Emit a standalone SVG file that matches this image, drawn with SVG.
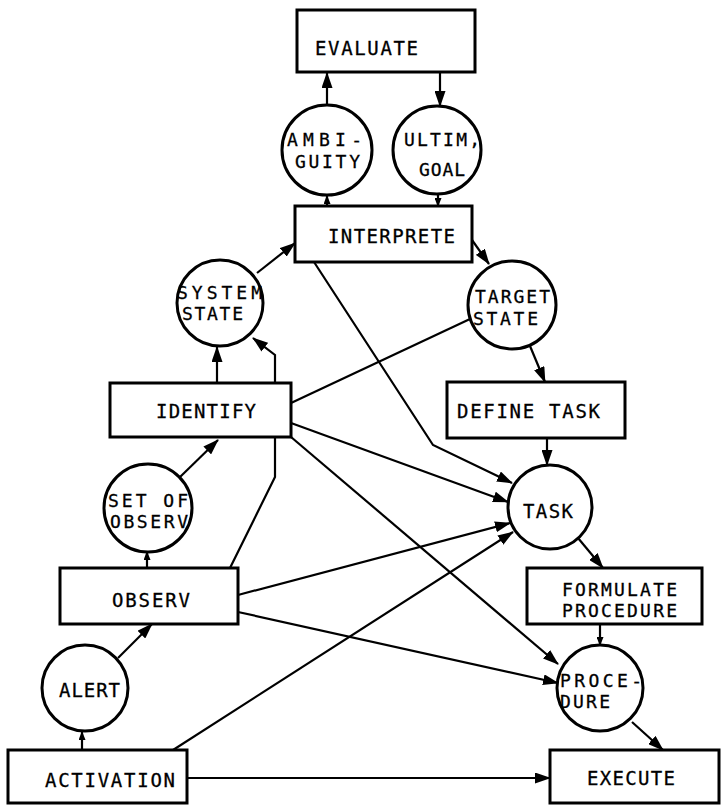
<svg xmlns="http://www.w3.org/2000/svg" width="721" height="805" viewBox="0 0 721 805">
<style>
.box{fill:#fff;stroke:#000;stroke-width:3}
.circ{fill:#fff;stroke:#000;stroke-width:3}
.t{font-family:"DejaVu Sans Mono","Liberation Mono",monospace;font-size:19px;fill:#000;stroke:#000;stroke-width:0.3}
.t2{font-family:"DejaVu Sans Mono","Liberation Mono",monospace;font-size:18px;fill:#000;stroke:#000;stroke-width:0.3}
.c{fill:none;stroke:#000;stroke-width:2.2}
</style>
<defs>
<marker id="ah" markerUnits="userSpaceOnUse" markerWidth="16" markerHeight="11" refX="15" refY="5.5" orient="auto">
<path d="M0,0 L16,5.5 L0,11 z" fill="#000"/>
</marker>
<marker id="sh" markerUnits="userSpaceOnUse" markerWidth="9" markerHeight="7" refX="8" refY="3.5" orient="auto">
<path d="M0,0 L9,3.5 L0,7 z" fill="#000"/>
</marker>
</defs>
<rect width="721" height="805" fill="#fff"/>
<g id="connectors">
<line class="c" x1="327" y1="104" x2="327" y2="73" marker-end="url(#ah)"/>
<line class="c" x1="440" y1="72" x2="440" y2="106" marker-end="url(#ah)"/>
<line class="c" x1="327" y1="206" x2="327" y2="196" marker-end="url(#sh)"/>
<line class="c" x1="438" y1="194" x2="438" y2="206" marker-end="url(#sh)"/>
<line class="c" x1="257" y1="273" x2="295" y2="243" marker-end="url(#ah)"/>
<line class="c" x1="472" y1="240" x2="489" y2="264" marker-end="url(#ah)"/>
<line class="c" x1="217" y1="383" x2="217" y2="347" marker-end="url(#ah)"/>
<polyline class="c" points="230,568 275,477 275,355 253,338" marker-end="url(#ah)"/>
<line class="c" x1="291" y1="403" x2="470" y2="319"/>
<line class="c" x1="530" y1="346" x2="545" y2="382" marker-end="url(#ah)"/>
<line class="c" x1="547" y1="438" x2="547" y2="465" marker-end="url(#ah)"/>
<polyline class="c" points="314,262 433,445 512,483" marker-end="url(#ah)"/>
<line class="c" x1="291" y1="423" x2="508" y2="502" marker-end="url(#ah)"/>
<line class="c" x1="291" y1="437" x2="558" y2="664" marker-end="url(#ah)"/>
<line class="c" x1="180" y1="477" x2="218" y2="440" marker-end="url(#ah)"/>
<line class="c" x1="147" y1="568" x2="147" y2="552" marker-end="url(#sh)"/>
<line class="c" x1="238" y1="595" x2="510" y2="523" marker-end="url(#ah)"/>
<line class="c" x1="238" y1="612" x2="558" y2="683" marker-end="url(#ah)"/>
<line class="c" x1="118" y1="658" x2="152" y2="624" marker-end="url(#ah)"/>
<line class="c" x1="82" y1="750" x2="82" y2="732" marker-end="url(#sh)"/>
<line class="c" x1="173" y1="750" x2="513" y2="532" marker-end="url(#ah)"/>
<line class="c" x1="187" y1="778" x2="550" y2="778" marker-end="url(#ah)"/>
<line class="c" x1="578" y1="538" x2="603" y2="568" marker-end="url(#ah)"/>
<line class="c" x1="600" y1="624" x2="600" y2="645" marker-end="url(#sh)"/>
<line class="c" x1="632" y1="722" x2="663" y2="750" marker-end="url(#ah)"/>
</g>
<g id="evaluate"><rect class="box" x="297" y="10" width="178" height="62"/><text class="t" x="315" y="55" textLength="103">EVALUATE</text></g>
<g id="ambiguity"><circle class="circ" cx="327" cy="150" r="45"/><text class="t2" x="287" y="146" textLength="75">AMBI-</text><text class="t2" x="295" y="168" textLength="65">GUITY</text></g>
<g id="ultimgoal"><circle class="circ" cx="437" cy="150" r="44"/><text class="t2" x="404" y="146" textLength="76">ULTIM,</text><text class="t2" x="419" y="176" textLength="46">GOAL</text></g>
<g id="interprete"><rect class="box" x="295" y="206" width="177" height="56"/><text class="t" x="328" y="243" textLength="127">INTERPRETE</text></g>
<g id="systemstate"><circle class="circ" cx="220" cy="303" r="43"/><text class="t2" x="177" y="299" textLength="85">SYSTEM</text><text class="t2" x="182" y="320" textLength="61">STATE</text></g>
<g id="targetstate"><circle class="circ" cx="512" cy="305" r="44"/><text class="t2" x="475" y="303" textLength="75">TARGET</text><text class="t2" x="473" y="325" textLength="65">STATE</text></g>
<g id="identify"><rect class="box" x="110" y="383" width="181" height="54"/><text class="t" x="156" y="418" textLength="100">IDENTIFY</text></g>
<g id="definetask"><rect class="box" x="447" y="382" width="178" height="56"/><text class="t" x="457" y="418" textLength="143">DEFINE TASK</text></g>
<g id="task"><circle class="circ" cx="550" cy="507" r="42"/><text class="t" x="523" y="518" textLength="50">TASK</text></g>
<g id="setofobserv"><circle class="circ" cx="148" cy="508" r="44"/><text class="t2" x="108" y="507" textLength="80">SET OF</text><text class="t2" x="110" y="528" textLength="78">OBSERV</text></g>
<g id="observ"><rect class="box" x="60" y="568" width="178" height="56"/><text class="t" x="112" y="607" textLength="78">OBSERV</text></g>
<g id="formulate"><rect class="box" x="527" y="568" width="175" height="56"/><text class="t2" x="562" y="596" textLength="115">FORMULATE</text><text class="t2" x="562" y="617" textLength="115">PROCEDURE</text></g>
<g id="alert"><circle class="circ" cx="85" cy="688" r="43"/><text class="t" x="59" y="697" textLength="61">ALERT</text></g>
<g id="procedure"><circle class="circ" cx="600" cy="688" r="43"/><text class="t2" x="560" y="687" textLength="82">PROCE-</text><text class="t2" x="560" y="708" textLength="50">DURE</text></g>
<g id="activation"><rect class="box" x="8" y="750" width="179" height="53"/><text class="t" x="45" y="787" textLength="130">ACTIVATION</text></g>
<g id="execute"><rect class="box" x="550" y="750" width="169" height="53"/><text class="t" x="587" y="785" textLength="88">EXECUTE</text></g>
</svg>
